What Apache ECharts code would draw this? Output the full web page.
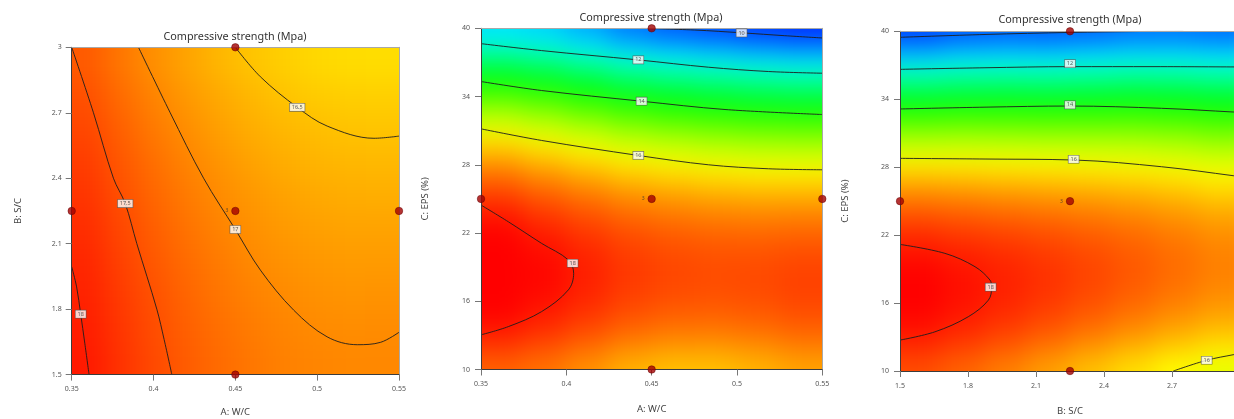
<!DOCTYPE html>
<html>
<head>
<meta charset="utf-8">
<script src="https://cdn.jsdelivr.net/npm/echarts@6.0.0/dist/echarts.min.js"></script>
<style>
html,body{margin:0;padding:0;background:#fff;overflow:hidden;}
#wrap{position:relative;width:1234px;height:419px;overflow:hidden;}
.layer{position:absolute;left:0;top:0;width:1260px;height:419px;}
.heat{filter:blur(13px);}
</style>
</head>
<body>
<div id="wrap">
  <div id="h0" class="layer heat"></div>
  <div id="h1" class="layer heat"></div>
  <div id="h2" class="layer heat"></div>
  <div id="main" class="layer"></div>
</div>
<script>
// ---------------- DATA ----------------
const TITLE = 'Compressive strength (Mpa)';

// tick labels
const p1XTicks = [0.35, 0.4, 0.45, 0.5, 0.55];
const p1YTicks = [1.5, 1.8, 2.1, 2.4, 2.7, 3];
const p2XTicks = [0.35, 0.4, 0.45, 0.5, 0.55];
const p2YTicks = [10, 16, 22, 28, 34, 40];
const p3XTicks = [1.5, 1.8, 2.1, 2.4, 2.7, 3];
const p3YTicks = [10, 16, 22, 28, 34, 40];

// estimated strength per cell; one array per column (left -> right), values bottom -> top
// panel 1: 10 columns of A (0.35..0.55), 10 rows of B (1.5..3)
const p1Values = [
  [17.98,17.95,17.91,17.87,17.81,17.75,17.68,17.60,17.52,17.42],
  [17.76,17.73,17.69,17.64,17.59,17.52,17.45,17.37,17.28,17.18],
  [17.57,17.54,17.50,17.44,17.39,17.32,17.25,17.16,17.07,16.97],
  [17.41,17.37,17.33,17.28,17.22,17.15,17.07,16.98,16.89,16.79],
  [17.28,17.24,17.19,17.14,17.07,17.00,16.92,16.83,16.74,16.63],
  [17.17,17.13,17.08,17.02,16.96,16.89,16.80,16.71,16.62,16.51],
  [17.09,17.05,17.00,16.94,16.87,16.80,16.71,16.62,16.52,16.41],
  [17.05,17.00,16.95,16.89,16.82,16.74,16.65,16.56,16.45,16.34],
  [17.03,16.98,16.92,16.86,16.79,16.71,16.62,16.52,16.42,16.30],
  [17.03,16.99,16.93,16.86,16.79,16.70,16.61,16.51,16.41,16.29]
];
// panel 2: 8 columns of A (0.35..0.55), 30 rows of C (10..40)
const p2Values = [
  [17.35,17.60,17.80,17.98,18.13,18.24,18.32,18.37,18.39,18.38,18.33,18.25,18.14,18.00,17.82,17.62,17.38,17.11,16.81,16.47,16.11,15.71,15.28,14.81,14.32,13.79,13.24,12.64,12.02,11.37],
  [17.20,17.42,17.62,17.79,17.92,18.02,18.10,18.14,18.15,18.13,18.08,18.00,17.88,17.74,17.56,17.36,17.12,16.85,16.55,16.22,15.86,15.47,15.05,14.59,14.11,13.59,13.04,12.47,11.86,11.22],
  [16.94,17.17,17.38,17.55,17.69,17.80,17.87,17.92,17.93,17.91,17.86,17.78,17.66,17.52,17.34,17.13,16.89,16.61,16.31,15.97,15.60,15.20,14.77,14.31,13.81,13.28,12.72,12.13,11.51,10.85],
  [16.66,16.91,17.13,17.31,17.46,17.57,17.65,17.70,17.72,17.70,17.65,17.57,17.46,17.31,17.13,16.91,16.66,16.38,16.07,15.72,15.34,14.93,14.49,14.01,13.50,12.95,12.37,11.76,11.12,10.44],
  [16.53,16.78,17.00,17.18,17.33,17.45,17.53,17.58,17.60,17.58,17.53,17.45,17.33,17.18,17.00,16.78,16.53,16.24,15.92,15.57,15.18,14.76,14.31,13.82,13.30,12.75,12.16,11.54,10.88,10.19],
  [16.53,16.78,16.99,17.17,17.31,17.42,17.50,17.54,17.55,17.53,17.47,17.38,17.26,17.10,16.91,16.68,16.43,16.14,15.81,15.46,15.06,14.64,14.18,13.69,13.17,12.61,12.02,11.39,10.74,10.05],
  [16.64,16.87,17.07,17.23,17.37,17.47,17.53,17.57,17.57,17.53,17.47,17.37,17.23,17.07,16.87,16.64,16.37,16.07,15.74,15.37,14.98,14.54,14.08,13.58,13.05,12.49,11.89,11.26,10.59,9.90],
  [16.78,17.01,17.19,17.35,17.47,17.56,17.62,17.64,17.63,17.59,17.51,17.40,17.26,17.09,16.88,16.64,16.36,16.06,15.72,15.34,14.94,14.50,14.03,13.52,12.98,12.41,11.81,11.17,10.50,9.80]
];
// panel 3: 8 columns of B (1.5..3), 30 rows of C (10..40)
const p3Values = [
  [17.52,17.72,17.88,18.02,18.12,18.18,18.22,18.22,18.19,18.13,18.03,17.90,17.74,17.55,17.32,17.06,16.77,16.44,16.08,15.69,15.27,14.81,14.32,13.80,13.24,12.65,12.03,11.38,10.69,9.97],
  [17.33,17.53,17.70,17.84,17.95,18.02,18.06,18.07,18.05,18.00,17.91,17.79,17.64,17.46,17.25,17.00,16.72,16.41,16.06,15.69,15.28,14.84,14.37,13.86,13.32,12.75,12.15,11.52,10.85,10.15],
  [17.09,17.31,17.49,17.64,17.76,17.85,17.90,17.92,17.91,17.87,17.80,17.69,17.55,17.38,17.17,16.93,16.66,16.36,16.03,15.66,15.26,14.83,14.36,13.87,13.34,12.78,12.18,11.56,10.90,10.21],
  [16.81,17.05,17.25,17.42,17.56,17.66,17.73,17.77,17.77,17.74,17.68,17.59,17.46,17.30,17.10,16.87,16.61,16.32,15.99,15.63,15.23,14.81,14.35,13.85,13.32,12.76,12.17,11.54,10.88,10.19],
  [16.53,16.78,17.00,17.19,17.34,17.46,17.54,17.59,17.61,17.59,17.55,17.46,17.35,17.20,17.02,16.80,16.55,16.27,15.95,15.60,15.22,14.81,14.36,13.87,13.36,12.81,12.22,11.61,10.96,10.27],
  [16.27,16.53,16.76,16.95,17.12,17.25,17.34,17.41,17.44,17.43,17.40,17.33,17.23,17.09,16.92,16.72,16.48,16.21,15.91,15.58,15.21,14.81,14.37,13.91,13.41,12.87,12.30,11.70,11.07,10.40],
  [16.01,16.29,16.52,16.73,16.90,17.04,17.15,17.22,17.26,17.26,17.24,17.18,17.08,16.96,16.80,16.60,16.38,16.12,15.82,15.50,15.14,14.75,14.32,13.86,13.37,12.84,12.29,11.69,11.07,10.41],
  [15.80,16.08,16.32,16.53,16.71,16.85,16.96,17.04,17.08,17.10,17.07,17.02,16.93,16.81,16.65,16.46,16.24,15.99,15.70,15.38,15.02,14.64,14.22,13.76,13.28,12.75,12.20,11.61,10.99,10.34]
];

// contour lines
const p1Contour18  = [[0.35,1.994],[0.3530,1.902],[0.3555,1.777],[0.3580,1.644],[0.3606,1.5]];
const p1Contour175 = [[0.35,3.0],[0.3633,2.7],[0.3755,2.4],[0.3827,2.284],[0.3898,2.1],[0.4020,1.8],[0.4065,1.66],[0.4112,1.5]];
const p1Contour17  = [[0.3908,3.0],[0.4102,2.7],[0.4306,2.4],[0.45,2.165],[0.4653,1.979],[0.4857,1.795],[0.5061,1.673],[0.5245,1.637],[0.5388,1.648],[0.55,1.694]];
const p1Contour165 = [[0.45,3.0],[0.4653,2.865],[0.4878,2.725],[0.5061,2.639],[0.5347,2.583],[0.55,2.593]];
const p1Labels = [[0.3555,1.777,'18'],[0.3827,2.284,'17.5'],[0.45,2.165,'17'],[0.4878,2.725,'16.5']];

const p2Contour10 = [[0.444,40],[0.475,39.85],[0.503,39.6],[0.528,39.35],[0.55,39.15]];
const p2Contour12 = [[0.35,38.65],[0.3855,38.04],[0.4422,37.22],[0.4832,36.58],[0.5184,36.2],[0.55,36.05]];
const p2Contour14 = [[0.35,35.32],[0.3855,34.53],[0.4441,33.59],[0.493,32.86],[0.55,32.42]];
const p2Contour16 = [[0.35,31.16],[0.3855,30.14],[0.4422,28.82],[0.4832,28.0],[0.5184,27.65],[0.55,27.56]];
const p2Contour18 = [[0.35,24.46],[0.366,22.99],[0.3855,21.09],[0.4012,19.63],[0.4043,18.46],[0.4012,17.0],[0.3855,15.09],[0.366,13.77],[0.35,13.05]];
const p2Labels = [[0.5027,39.59,'10'],[0.4422,37.22,'12'],[0.4441,33.59,'14'],[0.4422,28.82,'16'],[0.4037,19.34,'18']];

const p3Contour10  = [[1.5,39.47],[1.875,39.72],[2.25,39.9],[2.55,39.98],[2.75,40]];
const p3Contour12  = [[1.5,36.64],[1.875,36.78],[2.25,36.88],[2.625,36.88],[3.0,36.85]];
const p3Contour14  = [[1.5,33.14],[1.875,33.3],[2.25,33.4],[2.654,33.2],[2.973,32.87],[3.0,32.84]];
const p3Contour16  = [[1.5,28.78],[1.875,28.72],[2.272,28.63],[2.654,28.04],[2.973,27.24],[3.0,27.15]];
const p3Contour18  = [[1.5,21.18],[1.698,20.39],[1.831,19.21],[1.897,18.03],[1.904,17.38],[1.89,16.26],[1.801,14.79],[1.654,13.46],[1.5,12.73]];
const p3Contour16b = [[2.706,10],[2.853,10.95],[2.973,11.45],[3.0,11.55]];
const p3Labels = [[2.25,37.14,'12'],[2.25,33.5,'14'],[2.266,28.7,'16'],[1.9,17.4,'18'],[2.853,10.95,'16']];

// design points [x, y, replicate note]
const p1Points = [[0.45,3,''],[0.35,2.25,''],[0.45,2.25,'3'],[0.55,2.25,''],[0.45,1.5,'']];
const p2Points = [[0.45,40,''],[0.35,25,''],[0.45,25,'3'],[0.55,25,''],[0.45,10,'']];
const p3Points = [[2.25,40,''],[1.5,25,''],[2.25,25,'3'],[3.0,25,''],[2.25,10,'']];

// ---------------- LAYOUT / STYLE ----------------
const FONT = 'Noto Sans';
const CANVAS_W = 1260, CANVAS_H = 419;
const EXT = 55; // edge cells are stretched outward so the soft shading does not fade at the frame
const panels = [
  { grid:{left:71.7, top:47.3, width:327.3, height:327.3}, xMin:0.35, xMax:0.55, yMin:1.5, yMax:3,
    xTicks:p1XTicks, yTicks:p1YTicks, xName:'A: W/C', yName:'B: S/C', xGap:32.5, yGap:48.5, yMargin:10,
    title:{x:235, y:31}, values:p1Values,
    contours:[p1Contour18,p1Contour175,p1Contour17,p1Contour165], labels:p1Labels, points:p1Points },
  { grid:{left:481, top:28.3, width:341.3, height:341.2}, xMin:0.35, xMax:0.55, yMin:10, yMax:40,
    xTicks:p2XTicks, yTicks:p2YTicks, xName:'A: W/C', yName:'C: EPS (%)', xGap:34.5, yGap:51, yMargin:11,
    title:{x:651, y:12}, values:p2Values,
    contours:[p2Contour10,p2Contour12,p2Contour14,p2Contour16,p2Contour18], labels:p2Labels, points:p2Points },
  { grid:{left:900, top:31.3, width:340, height:339.7}, xMin:1.5, xMax:3, yMin:10, yMax:40,
    xTicks:p3XTicks, yTicks:p3YTicks, xName:'B: S/C', yName:'C: EPS (%)', xGap:35, yGap:50, yMargin:11,
    title:{x:1070, y:14.5}, values:p3Values,
    contours:[p3Contour10,p3Contour12,p3Contour14,p3Contour16,p3Contour18,p3Contour16b], labels:p3Labels, points:p3Points }
];
const COLORS = ['#0000ff','#00ffff','#00ff00','#ffff00','#ff0000'];
const fmt = v => String(+(+v).toFixed(2));

// ---------- shading layers (one per panel, softened with CSS blur, clipped to the plot frame) ----------
panels.forEach((p, i) => {
  const el = document.getElementById('h' + i);
  const g = p.grid;
  el.style.clipPath = `inset(${g.top}px ${CANVAS_W - g.left - g.width}px ${CANVAS_H - g.top - g.height}px ${g.left}px)`;
  const nx = p.values.length, ny = p.values[0].length;
  const dx = (p.xMax - p.xMin) / nx, dy = (p.yMax - p.yMin) / ny;
  const data = [];
  p.values.forEach((col, ci) => col.forEach((v, ri) =>
    data.push([p.xMin + ci * dx, p.xMin + (ci + 1) * dx, p.yMin + ri * dy, p.yMin + (ri + 1) * dy, v, ci, ri])));
  const ch = echarts.init(el, null, { renderer:'canvas' });
  ch.setOption({
    animation:false,
    grid:[Object.assign({ containLabel:false, outerBoundsMode:'none' }, g)],
    xAxis:[{ type:'value', min:p.xMin, max:p.xMax, show:false }],
    yAxis:[{ type:'value', min:p.yMin, max:p.yMax, show:false }],
    visualMap:{ type:'continuous', show:false, dimension:4, min:9.4, max:18.2, inRange:{ color:COLORS } },
    series:[{
      type:'custom', clip:false, silent:true, data,
      renderItem:(params, api) => {
        const a = api.coord([api.value(0), api.value(3)]);
        const b = api.coord([api.value(1), api.value(2)]);
        let x0 = a[0], y0 = a[1], x1 = b[0], y1 = b[1];
        if (api.value(5) === 0) x0 -= EXT;
        if (api.value(5) === nx - 1) x1 += EXT;
        if (api.value(6) === 0) y1 += EXT;
        if (api.value(6) === ny - 1) y0 -= EXT;
        return { type:'rect', shape:{ x:x0 - 0.5, y:y0 - 0.5, width:x1 - x0 + 1, height:y1 - y0 + 1 },
                 style:{ fill:api.visual('color') } };
      }
    }]
  });
});

// ---------- frame, axes, contours, labels, points ----------
const grids = [], xAxes = [], yAxes = [], titles = [], series = [];
panels.forEach((p, i) => {
  grids.push(Object.assign({ containLabel:false, outerBoundsMode:'none' }, p.grid));
  titles.push({ text:TITLE, left:p.title.x, top:p.title.y, textAlign:'center', padding:0,
    textStyle:{ fontSize:10.8, fontWeight:'normal', color:'#333', fontFamily:FONT } });
});
panels.forEach((p, i) => {
  xAxes.push({ type:'value', gridIndex:i, min:p.xMin, max:p.xMax, position:'bottom', z:6,
    axisLine:{ show:true, onZero:false, lineStyle:{ color:'#3c3c3c', width:1 } },
    axisTick:{ show:true, length:6, customValues:p.xTicks, lineStyle:{ color:'#777' } },
    axisLabel:{ customValues:p.xTicks, formatter:fmt, fontSize:7, color:'#555', margin:11, fontFamily:FONT },
    splitLine:{ show:false },
    name:p.xName, nameLocation:'middle', nameGap:p.xGap,
    nameTextStyle:{ fontSize:9.5, color:'#444', fontFamily:FONT } });
  yAxes.push({ type:'value', gridIndex:i, min:p.yMin, max:p.yMax, position:'left', z:6,
    axisLine:{ show:true, onZero:false, lineStyle:{ color:'#3c3c3c', width:1 } },
    axisTick:{ show:true, length:6, customValues:p.yTicks, lineStyle:{ color:'#777' } },
    axisLabel:{ customValues:p.yTicks, formatter:fmt, fontSize:7, color:'#555', margin:p.yMargin, fontFamily:FONT },
    splitLine:{ show:false },
    name:p.yName, nameLocation:'middle', nameGap:p.yGap,
    nameTextStyle:{ fontSize:9.5, color:'#444', fontFamily:FONT } });
});
panels.forEach((p, i) => {
  xAxes.push({ type:'value', gridIndex:i, min:p.xMin, max:p.xMax, position:'top', z:6,
    axisLine:{ show:true, onZero:false, lineStyle:{ color:'#a8a8a8', width:1 } },
    axisTick:{ show:false }, axisLabel:{ show:false }, splitLine:{ show:false } });
  yAxes.push({ type:'value', gridIndex:i, min:p.yMin, max:p.yMax, position:'right', z:6,
    axisLine:{ show:true, onZero:false, lineStyle:{ color:'#a8a8a8', width:1 } },
    axisTick:{ show:false }, axisLabel:{ show:false }, splitLine:{ show:false } });
});
panels.forEach((p, i) => {
  p.contours.forEach(c => series.push({ type:'line', xAxisIndex:i, yAxisIndex:i, data:c,
    symbol:'none', showSymbol:false, smooth:0.35, silent:true, z:3,
    lineStyle:{ color:'#1e1e1e', width:0.9 } }));
  series.push({ type:'scatter', xAxisIndex:i, yAxisIndex:i, data:p.labels, z:7, silent:true,
    symbol:'rect', symbolSize:1, itemStyle:{ color:'rgba(0,0,0,0)' }, clip:false,
    label:{ show:true, position:'inside', formatter:q => q.value[2], fontSize:5.5, lineHeight:6,
      color:'#333', fontFamily:FONT, backgroundColor:'#fff', borderColor:'#555', borderWidth:0.6,
      padding:[1, 2, 0.5, 2] } });
  series.push({ type:'scatter', xAxisIndex:i, yAxisIndex:i, data:p.points, z:8, silent:true, clip:false,
    symbol:'circle', symbolSize:7.5,
    itemStyle:{ color:'#a20000', borderColor:'#660000', borderWidth:0.6 },
    label:{ show:true, position:'left', distance:3, formatter:q => q.value[2], fontSize:5,
      color:'#333', fontFamily:FONT } });
});

const chart = echarts.init(document.getElementById('main'), null, { renderer:'canvas' });
chart.setOption({
  animation:false,
  backgroundColor:'transparent',
  title:titles,
  grid:grids,
  xAxis:xAxes,
  yAxis:yAxes,
  series
});
</script>
</body>
</html>
